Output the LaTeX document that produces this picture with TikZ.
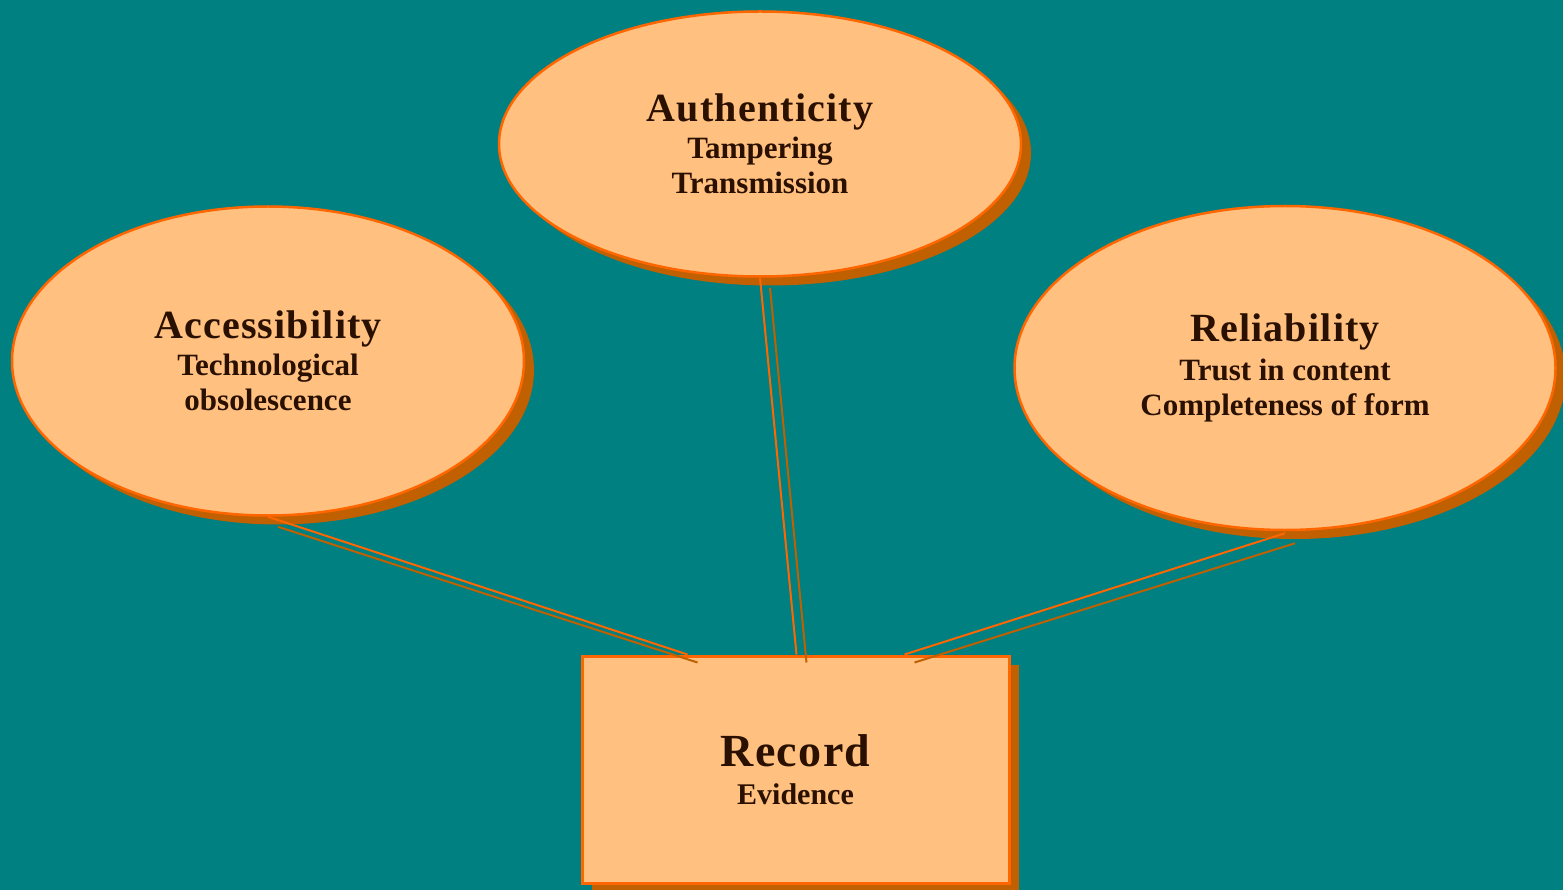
\documentclass[tikz,border=0pt]{standalone}
\usepackage{fontspec}
\setmainfont{Liberation Serif}
\newfontfamily\spacedserif{Liberation Serif}[LetterSpace=3.0]
\usetikzlibrary{shapes.geometric,shadows}
\definecolor{seateal}{HTML}{008080}
\definecolor{peach}{HTML}{FFC080}
\definecolor{rimorange}{HTML}{FF6600}
\definecolor{shadeorange}{HTML}{C06000}
\definecolor{inkbrown}{HTML}{2A1000}
\newcommand{\headword}[1]{{\spacedserif\bfseries\fontsize{40}{44}\selectfont #1}}
\tikzset{
  bubble/.style={ellipse, draw=rimorange, line width=2.5pt, fill=peach, text=inkbrown,
    align=center, font=\bfseries\fontsize{31}{35}\selectfont,
    drop shadow={shadow xshift=10pt, shadow yshift=-9pt, fill=shadeorange, opacity=1}},
  recbox/.style={rectangle, draw=rimorange, line width=3pt, fill=peach, text=inkbrown,
    align=center, font=\bfseries\fontsize{30}{34}\selectfont,
    minimum width=427pt, minimum height=227pt,
    drop shadow={shadow xshift=10pt, shadow yshift=-9pt, fill=shadeorange, opacity=1}},
  link/.style={draw=rimorange, line width=2pt},
  linkshade/.style={draw=shadeorange, line width=2pt},
}
\begin{document}
\begin{tikzpicture}[x=1pt,y=-1pt]
\fill[seateal] (0,0) rectangle (1563,890);
\useasboundingbox (0,0) rectangle (1563,890);
% the three qualities
\node[bubble, minimum width=512pt, minimum height=309pt] (acc) at (268,361)
  {\headword{Accessibility}\\[2pt] Technological\\ obsolescence};
\node[bubble, minimum width=522pt, minimum height=265pt] (auth) at (760,144)
  {\headword{Authenticity}\\[2pt] Tampering\\ Transmission};
\node[bubble, minimum width=541pt, minimum height=324pt] (rel) at (1285,368)
  {\headword{Reliability}\\[4pt] Trust in content\\ Completeness of form};
% the record
\node[recbox] (rec) at (795.5,769.5)
  {{\spacedserif\fontsize{46}{50}\selectfont Record}\\[4pt] Evidence};
% links and their shades
\draw[link] (acc.south) -- ([xshift=107pt]rec.north west);
\draw[linkshade] ([xshift=10pt,yshift=-10pt]acc.south) -- ([xshift=117pt,yshift=-8pt]rec.north west);
\draw[link] (auth.south) -- ([xshift=1pt]rec.north);
\draw[linkshade] ([xshift=10pt,yshift=-10pt]auth.south) -- ([xshift=11pt,yshift=-8pt]rec.north);
\draw[link] ([yshift=-2pt]rel.south) -- ([xshift=324pt]rec.north west);
\draw[linkshade] ([xshift=10pt,yshift=-12pt]rel.south) -- ([xshift=334pt,yshift=-8pt]rec.north west);
\end{tikzpicture}
\end{document}
